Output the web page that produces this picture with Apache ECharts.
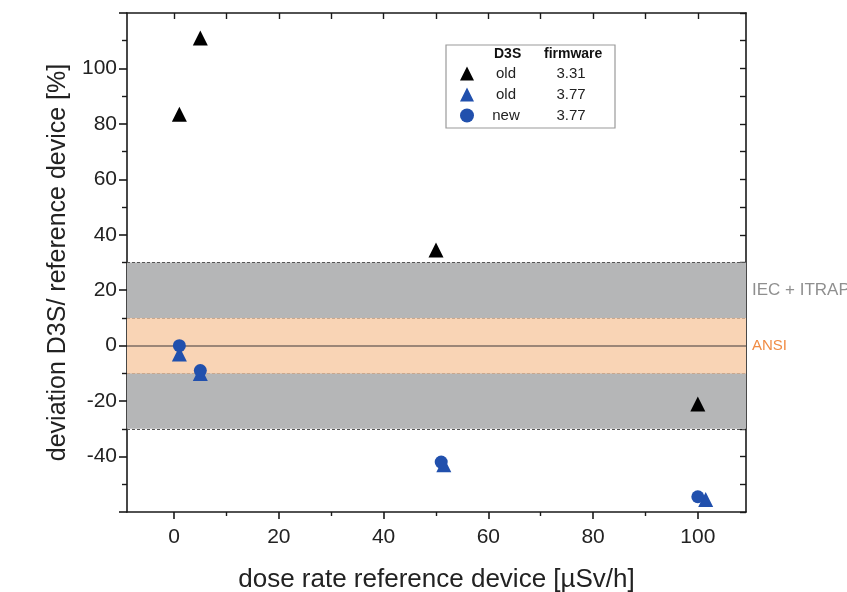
<!DOCTYPE html>
<html>
<head>
<meta charset="utf-8">
<script src="https://cdn.jsdelivr.net/npm/echarts@6/dist/echarts.min.js"></script>
<style>html,body{margin:0;padding:0;background:#fff;}#c{width:847px;height:592px;}</style>
</head>
<body>
<div id="c"></div>
<script>
// ---- data ----
const seriesNames = ['old 3.31', 'old 3.77', 'new 3.77'];
const old331 = [[1, 83.5], [5, 111], [50, 34.5], [100, -21]];
const old377 = [[1, -3], [5, -10], [51.5, -43], [101.5, -55.5]];
const new377 = [[1, 0], [5, -9], [51, -42], [100, -54.5]];
const xMajorTicks = [0, 20, 40, 60, 80, 100];
const xMinorTicks = [10, 30, 50, 70, 90];
const xAllTicks = [0, 10, 20, 30, 40, 50, 60, 70, 80, 90, 100];
const iecBand = [-30, 30];
const ansiBand = [-10, 10];
const bandLabels = [['IEC + ITRAP', 20], ['ANSI', 0]];
const legendHeader = ['D3S', 'firmware'];

const X_MIN = -9, X_MAX = 109.2, Y_MIN = -60, Y_MAX = 120;
const axisColor = '#1a1a1a';
const font = 'Liberation Sans, Arial, sans-serif';

const chart = echarts.init(document.getElementById('c'), null, {renderer: 'canvas'});
const grid = {left: 127, top: 13, right: 101, bottom: 80, outerBoundsMode: 'none', containLabel: false};

const option = {
  backgroundColor: '#fff',
  animation: false,
  grid: grid,
  textStyle: {fontFamily: font},
  legend: {
    data: seriesNames,
    orient: 'vertical',
    left: 446, top: 45,
    padding: [21, 6, 5, 14],
    itemGap: 6,
    itemWidth: 14, itemHeight: 14,
    itemTextGap: 4,
    borderColor: '#9a9a9a', borderWidth: 1.2,
    backgroundColor: '#fff',
    selectedMode: false,
    z: 2,
    formatter: function (n) {
      const p = n.split(' ');
      return '{a|' + p[0] + '}{b|' + p[1] + '}';
    },
    textStyle: {
      rich: {
        a: {width: 54, align: 'center', fontSize: 15, color: '#222', fontFamily: font, lineHeight: 15},
        b: {width: 76, align: 'center', fontSize: 15, color: '#222', fontFamily: font, lineHeight: 15}
      }
    }
  },
  graphic: [
    {type: 'text', z: 100, left: 494, top: 47, style: {text: legendHeader[0], font: 'bold 14px Liberation Sans, Arial', fill: '#111'}},
    {type: 'text', z: 100, left: 544, top: 47, style: {text: legendHeader[1], font: 'bold 14px Liberation Sans, Arial', fill: '#111'}}
  ],
  xAxis: [
    {
      type: 'value', min: X_MIN, max: X_MAX, position: 'bottom',
      name: 'dose rate reference device [µSv/h]', nameLocation: 'middle', nameGap: 55,
      nameTextStyle: {fontSize: 26, color: '#222', fontFamily: font},
      axisLine: {onZero: false, lineStyle: {color: axisColor, width: 1.6}},
      axisTick: {show: true, inside: false, length: 7, customValues: xMajorTicks, lineStyle: {color: axisColor, width: 1.6}},
      axisLabel: {customValues: xMajorTicks, fontSize: 21, color: '#222', margin: 15, fontFamily: font},
      splitLine: {show: false}
    },
    {
      type: 'value', min: X_MIN, max: X_MAX, position: 'bottom', gridIndex: 0,
      axisLine: {show: false, onZero: false},
      axisTick: {show: true, inside: false, length: 4, customValues: xMinorTicks, lineStyle: {color: axisColor, width: 1.4}},
      axisLabel: {show: false},
      splitLine: {show: false}
    },
    {
      type: 'value', min: X_MIN, max: X_MAX, position: 'top',
      axisLine: {show: true, onZero: false, lineStyle: {color: axisColor, width: 1.6}},
      axisTick: {show: true, inside: true, length: 6, customValues: xAllTicks, lineStyle: {color: axisColor, width: 1.4}},
      axisLabel: {show: false},
      splitLine: {show: false}
    }
  ],
  yAxis: [
    {
      type: 'value', min: Y_MIN, max: Y_MAX, interval: 20, position: 'left',
      name: 'deviation D3S/ reference device [%]', nameLocation: 'middle', nameGap: 49,
      nameTextStyle: {fontSize: 25, color: '#222', fontFamily: font},
      axisLine: {show: true, onZero: false, lineStyle: {color: axisColor, width: 1.6}},
      axisTick: {show: true, inside: false, length: 8, lineStyle: {color: axisColor, width: 1.6}},
      minorTick: {show: true, splitNumber: 2, length: 5, lineStyle: {color: axisColor, width: 1.4}},
      axisLabel: {fontSize: 21, color: '#222', margin: 10, fontFamily: font,
        formatter: function (v) { return (v === Y_MIN || v === Y_MAX) ? '' : String(v); }},
      splitLine: {show: false}
    },
    {
      type: 'value', min: Y_MIN, max: Y_MAX, interval: 10, position: 'right',
      axisLine: {show: true, onZero: false, lineStyle: {color: axisColor, width: 1.6}},
      axisTick: {show: true, inside: true, length: 6, lineStyle: {color: axisColor, width: 1.4}},
      axisLabel: {show: false},
      splitLine: {show: false}
    }
  ],
  series: [
    {
      name: '__bands', type: 'scatter', data: [], silent: true,
      markArea: {
        silent: true,
        data: [
          [{yAxis: iecBand[0], itemStyle: {color: '#b5b6b7'}}, {yAxis: iecBand[1]}],
          [{yAxis: ansiBand[0], itemStyle: {color: '#f9d4b5'}}, {yAxis: ansiBand[1]}]
        ]
      },
      markLine: {
        silent: true, symbol: 'none',
        data: [
          {yAxis: iecBand[0], lineStyle: {color: '#555', type: [3, 2], width: 1}, label: {show: false}},
          {yAxis: iecBand[1], lineStyle: {color: '#555', type: [3, 2], width: 1}, label: {show: false}},
          {yAxis: ansiBand[0], lineStyle: {color: '#c9a88e', type: [3, 2], width: 1}, label: {show: false}},
          {yAxis: ansiBand[1], lineStyle: {color: '#c9a88e', type: [3, 2], width: 1}, label: {show: false}},
          {yAxis: 0, lineStyle: {color: '#7d6d63', type: 'solid', width: 1.6}, label: {show: false}}
        ]
      }
    },
    {
      name: '__bandLabels', type: 'scatter', data: [], silent: true,
      markLine: {
        silent: true, symbol: 'none',
        lineStyle: {color: 'rgba(0,0,0,0)', width: 0},
        data: [
          {yAxis: bandLabels[0][1], label: {show: true, position: 'end', distance: 6, formatter: bandLabels[0][0], color: '#8f8f8f', fontSize: 17, fontFamily: font}},
          {yAxis: bandLabels[1][1], label: {show: true, position: 'end', distance: 6, formatter: bandLabels[1][0], color: '#f08c45', fontSize: 15, fontFamily: font}}
        ]
      }
    },
    {
      name: seriesNames[0], type: 'scatter', data: old331, symbol: 'triangle', symbolSize: 15,
      itemStyle: {color: '#000', opacity: 1}, z: 5
    },
    {
      name: seriesNames[1], type: 'scatter', data: old377, symbol: 'triangle', symbolSize: 15,
      itemStyle: {color: '#2150ad', opacity: 1}, z: 5
    },
    {
      name: seriesNames[2], type: 'scatter', data: new377, symbol: 'circle', symbolSize: 13,
      itemStyle: {color: '#2150ad', opacity: 1}, z: 6
    }
  ]
};
chart.setOption(option);
</script>
</body>
</html>
